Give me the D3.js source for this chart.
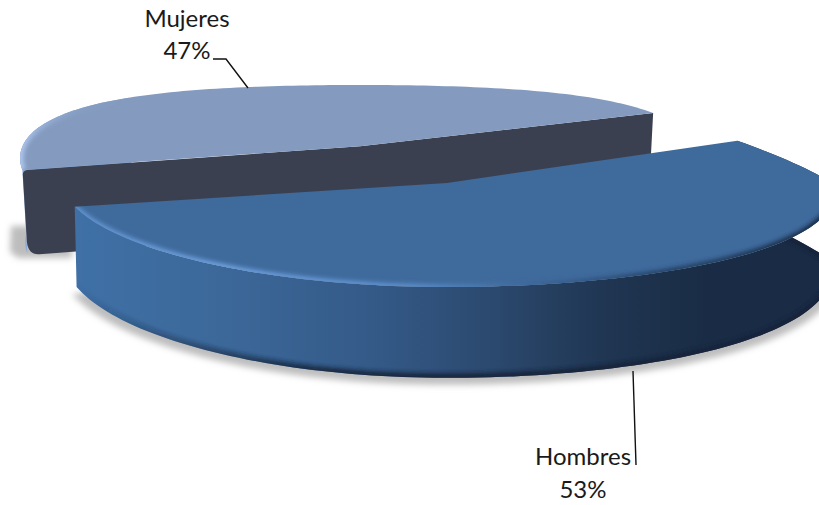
<!DOCTYPE html>
<html><head><meta charset="utf-8">
<script src="https://cdn.jsdelivr.net/npm/d3@7"></script>
<style>html,body{margin:0;padding:0;background:#fff;overflow:hidden}svg{display:block}text{font-family:Lato,"Open Sans",sans-serif;fill:#1a1a1a}</style>
</head><body><svg id="c" width="819" height="505"></svg>
<script>
const categories = ["Hombres", "Mujeres"];
const values = [53, 47];
const labelText = ["53%", "47%"];

const W = 819, H = 505;
const svg = d3.select("#c");
const defs = svg.append("defs");
const rad = Math.PI / 180;

// view of each exploded slice: a tilted, slightly perspective disc
const view = {
  Hombres: {cx:447, cy:183, R:385, ry:104, pBack:.43, pFrontR:.1, pFrontL:-.03, q:0, t0:77, tk:.18, inset:.995},
  Mujeres: {cx:360, cy:146.3, R:337.5, ry:96, pBack:.121, pFrontR:.121, pFrontL:.121, q:.361, t0:84, tk:0, inset:.985}
};
const pie = d3.pie().sort(null).startAngle(66*rad).endAngle(426*rad)(values);
const arcs = {};
pie.forEach((p,i)=>arcs[categories[i]] = p);

function project(v, th, low, r=1){
  const a = Math.sin(th)*r, b = -Math.cos(th)*r;
  const p = b<0 ? v.pBack : (a>0 ? v.pFrontR : v.pFrontL);
  const k = low ? v.inset : 1;
  const x = v.cx + v.R*a*(1+p*b)*k;
  const y = v.cy + v.ry*b*(1+v.q*b) + (low ? v.t0*(1+v.tk*b) : 0);
  return [x,y];
}
const line = d3.line();
function rim(name, low){
  const s = arcs[name], v = view[name];
  return d3.range(0,121).map(i=>project(v, s.startAngle+(s.endAngle-s.startAngle)*i/120, low));
}
const hTop = rim("Hombres",false), hLow = rim("Hombres",true);
const mTop = rim("Mujeres",false), mLow = rim("Mujeres",true);
const hApex = project(view.Hombres,0,false,0), mApex = project(view.Mujeres,0,false,0);
const mApexL = project(view.Mujeres,0,true,0);

function blur(id,sd){defs.append("filter").attr("id",id).attr("x","-20%").attr("y","-20%").attr("width","140%").attr("height","140%")
  .append("feGaussianBlur").attr("stdDeviation",sd);}
blur("b3",3); blur("b2",2.2); blur("b1",1);
function grad(id,x1,x2,stops){
  const g=defs.append("linearGradient").attr("id",id).attr("gradientUnits","userSpaceOnUse")
    .attr("x1",x1).attr("x2",x2).attr("y1",0).attr("y2",0);
  stops.forEach(s=>g.append("stop").attr("offset",s[0]).attr("stop-color",s[1]).attr("stop-opacity",s[2]===undefined?1:s[2]));
}
grad("hSide",75,819,[[0,"#3f70a6"],[.2,"#3c6899"],[.4,"#345a88"],[.55,"#2c4a70"],[.72,"#1f3551"],[.85,"#1a2c45"],[1,"#1a2c45"]]);
grad("hBevel",75,819,[[0,"#5f90cc"],[.2,"#6a9bd8"],[.45,"#5a8ac6"],[.6,"#3f6a9c"],[.8,"#27456a"],[1,"#182a42"]]);
grad("hDark",75,819,[[0,"#14233a",0],[.12,"#14233a",.35],[.35,"#14233a",.9],[1,"#14233a",1]]);
grad("mBevel",17,120,[[0,"#b4cbf2",1],[.2,"#a0b9e2",.8],[.6,"#95aed8",.2],[1,"#95aed8",0]]);

// soft shadows below the slices
const sh = svg.append("g").attr("filter","url(#b3)").attr("fill","#bdbdbd");
sh.append("path").attr("d", line(hLow.map(p=>[p[0]+(p[0]-447)*.012,p[1]+7]))+"Z");
sh.append("path").attr("d", line([[11,226],[10,252],[18,258],[72,258],[72,226]])+"Z");

// Mujeres: outer wall, cut faces, top
svg.append("path").attr("fill","#8eaad8")
  .attr("d", line(mTop.slice(0,40).concat(mLow.slice(0,40).reverse()))+"Z");
const c0 = mTop[0], c1 = mLow[0];
const faceOpen = line([mApex, mTop[120], mLow[120], mApexL]);
const facePath = faceOpen
  + "L"+(c1[0]+12)+","+(c1[1]+0.2)
  + "Q"+(c1[0]+1)+","+(c1[1]+1)+" "+(c1[0]-0.5)+","+(c1[1]-12)
  + "L"+(c0[0]+0.5)+","+(c0[1]+5)
  + "Q"+c0[0]+","+(c0[1]+1)+" "+(c0[0]+5)+","+c0[1]+"Z";
svg.append("path").attr("fill","#3b4050").attr("d",facePath);
const mPath = line([mApex].concat(mTop))+"Z";
svg.append("path").attr("fill","#849bbf").attr("d",mPath);
defs.append("clipPath").attr("id","mClip").append("path").attr("d",mPath);
svg.append("g").attr("clip-path","url(#mClip)").append("path").attr("d",line(mTop)).attr("fill","none")
  .attr("stroke","url(#mBevel)").attr("stroke-width",7).attr("filter","url(#b2)");

// Hombres: outer wall, top
const hSide = line(hTop.concat(hLow.slice().reverse()))+"Z";
svg.append("path").attr("fill","url(#hSide)").attr("d",hSide);
defs.append("clipPath").attr("id","hsClip").append("path").attr("d",hSide);
svg.append("g").attr("clip-path","url(#hsClip)").append("path").attr("d",line(hLow)).attr("fill","none")
  .attr("stroke","url(#hDark)").attr("stroke-width",9).attr("filter","url(#b2)");
const hPath = line([hApex].concat(hTop))+"Z";
svg.append("path").attr("fill","#3f6a9c").attr("d",hPath);
defs.append("clipPath").attr("id","hClip").append("path").attr("d",hPath);
const hb = svg.append("g").attr("clip-path","url(#hClip)");
hb.append("path").attr("d",line(hTop.slice(20))).attr("fill","none").attr("stroke","url(#hBevel)").attr("stroke-width",6).attr("filter","url(#b2)");
hb.append("path").attr("d",line(hTop.slice(50))).attr("fill","none").attr("stroke","url(#hBevel)").attr("stroke-width",1.6).attr("filter","url(#b1)");

// leaders and labels
svg.append("path").attr("fill","none").attr("stroke","#111").attr("stroke-width",1.4).attr("d",line([[213,59],[226,59],[248,88]]));
svg.append("path").attr("fill","none").attr("stroke","#111").attr("stroke-width",1.4).attr("d",line([[633,371],[636,465]]));
const labels=[{c:"Mujeres",t:labelText[1],x:187,y:[27,59]},{c:"Hombres",t:labelText[0],x:583,y:[465,498]}];
labels.forEach(l=>{
  svg.append("text").attr("x",l.x).attr("y",l.y[0]).attr("text-anchor","middle").attr("font-size",24).text(l.c);
  svg.append("text").attr("x",l.x).attr("y",l.y[1]).attr("text-anchor","middle").attr("font-size",24).text(l.t);
});
</script></body></html>
